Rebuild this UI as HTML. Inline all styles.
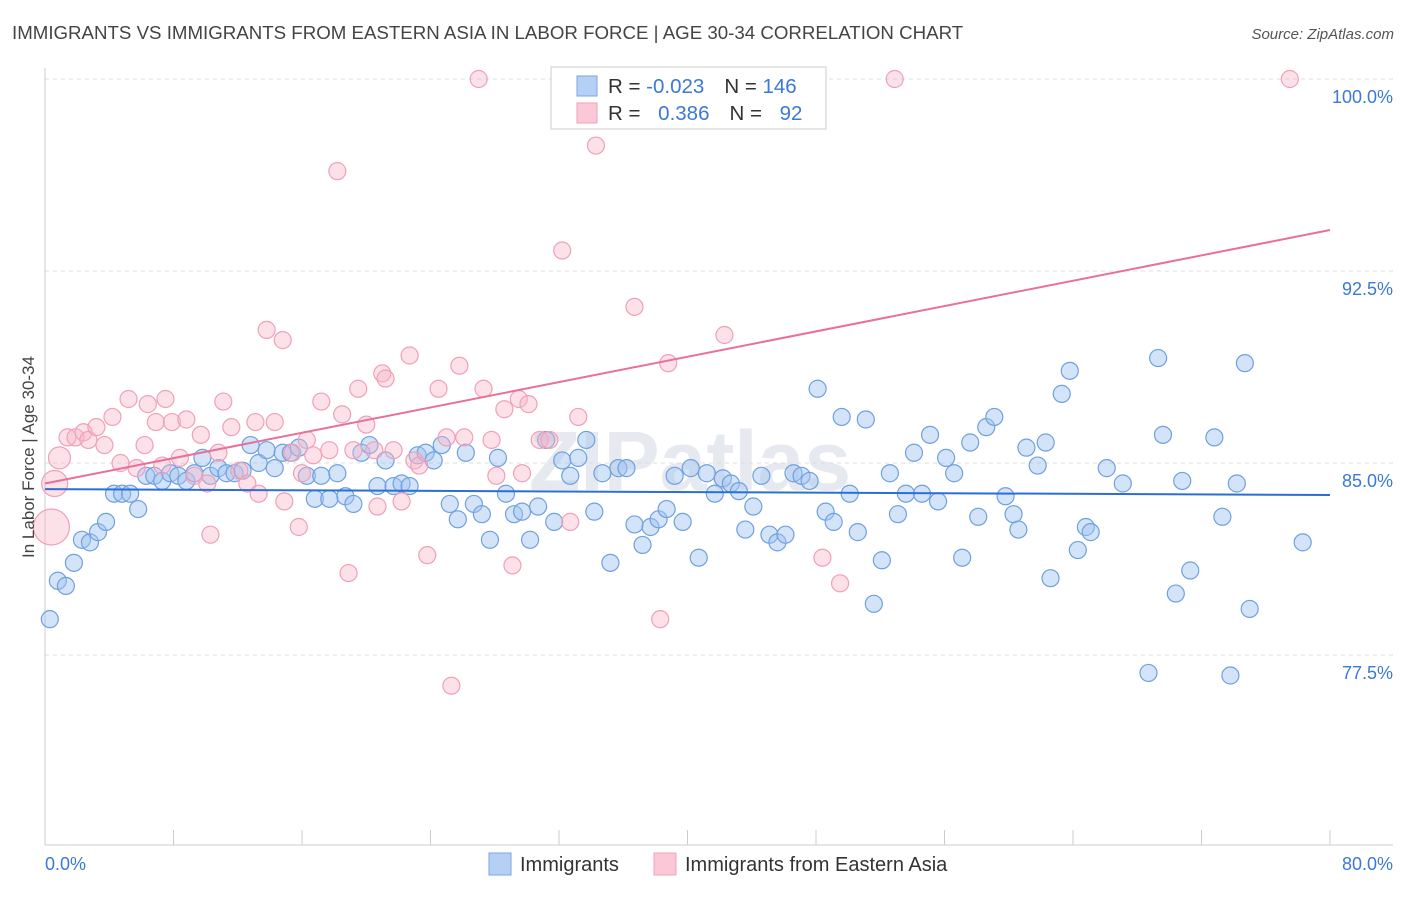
<!DOCTYPE html>
<html><head><meta charset="utf-8"><style>
body{margin:0;background:#fff;font-family:"Liberation Sans",sans-serif}
svg text{font-family:"Liberation Sans",sans-serif}
</style></head><body>
<svg width="1406" height="892" viewBox="0 0 1406 892" xmlns="http://www.w3.org/2000/svg">
<text x="12" y="39" font-size="18.7" fill="#444">IMMIGRANTS VS IMMIGRANTS FROM EASTERN ASIA IN LABOR FORCE | AGE 30-34 CORRELATION CHART</text>
<text x="1394" y="39" font-size="15" fill="#555" text-anchor="end" font-style="italic">Source: ZipAtlas.com</text>
<text x="690" y="490" font-size="84" fill="#e6e9ef" text-anchor="middle" font-weight="bold">ZIPatlas</text>
<g id="grid"></g>
<g id="axes"></g>
<g id="pts"></g>
<g id="lines"></g>
<text transform="translate(34,457) rotate(-90)" font-size="17" fill="#444" text-anchor="middle">In Labor Force | Age 30-34</text>
<text x="45" y="870" font-size="18" fill="#3b78d8">0.0%</text>
<text x="1393" y="870" font-size="18" fill="#3b78d8" text-anchor="end">80.0%</text>
<g>
<rect x="551" y="67" width="275" height="62" fill="#fff" stroke="#ccc"/>
<rect x="577" y="76" width="20" height="20" fill="#b6d0f5" stroke="#7aa6e6"/>
<rect x="577" y="103" width="20" height="20" fill="#fac8d7" stroke="#f0a0b8"/>
<text x="608" y="93" font-size="20.5" fill="#333">R = <tspan fill="#3b78d8">-0.023</tspan><tspan dx="20">N = </tspan><tspan fill="#3b78d8">146</tspan></text>
<text x="608" y="120" font-size="20.5" fill="#333">R = <tspan fill="#3b78d8" dx="12">0.386</tspan><tspan dx="20">N = </tspan><tspan fill="#3b78d8" dx="12">92</tspan></text>
</g>
<g>
<rect x="489" y="853" width="22" height="22" fill="#b6d0f5" stroke="#7aa6e6"/>
<text x="520" y="871" font-size="20" fill="#333">Immigrants</text>
<rect x="654" y="853" width="22" height="22" fill="#fac8d7" stroke="#f0a0b8"/>
<text x="685" y="871" font-size="20" fill="#333">Immigrants from Eastern Asia</text>
</g>
</svg>
<script>
const yTicks=[100,92.5,85,77.5];
const yTickLabels=["100.0%","92.5%","85.0%","77.5%"];
const xTicks=[0,8,16,24,32,40,48,56,64,72,80];
const blueX=[0.3,0.8,1.3,1.8,2.3,2.8,3.3,3.8,4.3,4.8,5.3,5.8,6.3,6.8,7.3,7.8,8.3,8.8,9.3,9.8,10.3,10.8,11.3,11.8,12.3,12.8,13.3,13.8,14.3,14.8,15.3,15.8,16.3,16.8,17.2,17.7,18.2,18.7,19.2,19.7,20.2,20.7,21.2,21.7,22.2,22.7,23.2,23.7,24.2,24.7,25.2,25.7,26.2,26.7,27.2,27.7,28.2,28.7,29.2,29.7,30.2,30.7,31.2,31.7,32.2,32.7,33.2,33.7,34.2,34.7,35.2,35.7,36.2,36.7,37.2,37.7,38.2,38.7,39.2,39.7,40.2,40.7,41.2,41.7,42.2,42.7,43.2,43.6,44.1,44.6,45.1,45.6,46.1,46.6,47.1,47.6,48.1,48.6,49.1,49.6,50.1,50.6,51.1,51.6,52.1,52.6,53.1,53.6,54.1,54.6,55.1,55.6,56.1,56.6,57.1,57.6,58.1,58.6,59.1,59.8,60.3,60.6,61.1,61.8,62.3,62.6,63.3,63.8,64.3,64.8,65.1,66.1,67.1,68.7,69.3,69.6,70.4,70.8,71.3,72.8,73.3,73.8,74.2,74.7,75.0,78.3];
const blueY=[78.9,80.4,80.2,81.1,82.0,81.9,82.3,82.7,83.8,83.8,83.8,83.2,84.5,84.5,84.3,84.6,84.5,84.3,84.6,85.2,84.5,84.8,84.6,84.6,84.7,85.7,85.0,85.5,84.8,85.4,85.4,85.6,84.5,83.6,84.5,83.6,84.6,83.7,83.4,85.4,85.7,84.1,85.1,84.1,84.2,84.1,85.3,85.4,85.1,85.7,83.4,82.8,85.4,83.4,83.0,82.0,85.2,83.8,83.0,83.1,82.0,83.3,85.9,82.7,85.1,84.5,85.2,85.9,83.1,84.6,81.1,84.8,84.8,82.6,81.8,82.5,82.8,83.2,84.5,82.7,84.8,81.3,84.6,83.8,84.4,84.2,83.9,82.4,83.3,84.5,82.2,81.9,82.2,84.6,84.5,84.3,87.9,83.1,82.7,86.8,83.8,82.3,86.7,79.5,81.2,84.6,83.0,83.8,85.4,83.8,86.1,83.5,85.2,84.6,81.3,85.8,82.9,86.4,86.8,83.7,83.0,82.4,85.6,84.9,85.8,80.5,87.7,88.6,81.6,82.5,82.3,84.8,84.2,76.8,89.1,86.1,79.9,84.3,80.8,86.0,82.9,76.7,84.2,88.9,79.3,81.9];
const pinkX=[0.4,0.6,0.9,1.4,1.9,2.4,2.7,3.2,3.7,4.2,4.7,5.2,5.7,6.2,6.4,6.9,7.3,7.5,7.9,8.4,8.8,9.3,9.7,10.1,10.3,10.8,11.1,11.6,12.1,12.6,13.3,13.1,13.8,14.3,14.8,14.9,15.4,15.8,16.0,16.3,16.7,17.2,17.7,18.2,18.5,18.9,19.2,19.5,20.0,20.5,20.7,21.0,21.2,21.7,22.2,22.7,23.0,23.3,23.8,24.5,25.0,25.3,25.8,26.1,27.0,27.3,27.8,28.1,28.6,29.1,29.5,29.7,30.1,30.8,31.4,32.2,32.7,33.2,34.3,36.7,37.2,38.3,38.8,42.3,46.3,48.4,49.5,52.9,77.5];
const pinkY=[82.5,84.2,85.2,86.0,86.0,86.2,85.9,86.4,85.7,86.8,85.0,87.5,84.8,85.7,87.3,86.6,84.9,87.5,86.6,85.2,86.7,84.5,86.1,84.2,82.2,85.4,87.4,86.4,84.7,84.2,83.8,86.6,90.2,86.6,89.8,83.5,85.4,82.5,84.6,85.9,85.3,87.4,85.5,96.4,86.9,80.7,85.5,87.9,86.5,85.5,83.3,88.5,88.3,85.5,83.5,89.2,85.1,84.9,81.4,87.9,86.0,76.3,88.8,86.0,100,87.9,85.9,84.5,87.1,81.0,87.5,84.6,87.3,85.9,85.9,93.3,82.7,86.8,97.4,91.1,100,78.9,88.9,90.0,100,81.3,80.3,100,100];
const pinkBigR=[18,13,11];
const blueTrend=[83.98,83.75];
const pinkTrend=[84.2,94.1];
const X=v=>45+v/80*1285, Y=v=>79+(100-v)*25.6;
const NS="http://www.w3.org/2000/svg";
function mk(tag,attrs,parent){const e=document.createElementNS(NS,tag);for(const k in attrs)e.setAttribute(k,attrs[k]);document.getElementById(parent).appendChild(e);return e;}
yTicks.forEach((t,i)=>{
 const l=mk('line',{x1:45,x2:1393,y1:Y(t),y2:Y(t),stroke:'#dcdcdc','stroke-dasharray':'4,4'},'grid');
 
 
 const tx=mk('text',{x:1393,y:Y(t)+24,'font-size':18,fill:'#3b78d8','text-anchor':'end'},'grid');
 tx.textContent=yTickLabels[i];
 
 
});
const ya=mk('line',{x1:45,x2:45,y1:68,y2:845,stroke:'#ccc'},'axes');


const xa=mk('line',{x1:45,x2:1393,y1:845,y2:845,stroke:'#ccc'},'axes');


xTicks.forEach(t=>{
 const l=mk('line',{x1:X(t),x2:X(t),y1:830,y2:845,stroke:'#ccc'},'axes');
 
 
});
blueX.forEach((v,i)=>{
 const c=mk('circle',{cx:X(v),cy:Y(blueY[i]),r:8.5,fill:'rgba(160,196,240,0.45)',stroke:'#6fa0e0','stroke-width':1.2},'pts');
 
 
});
pinkX.forEach((v,i)=>{
 const c=mk('circle',{cx:X(v),cy:Y(pinkY[i]),r:pinkBigR[i]||8.5,fill:'rgba(248,180,200,0.4)',stroke:'#f0a0b8','stroke-width':1.2},'pts');
 
 
});
const bl=mk('line',{x1:X(0),x2:X(80),y1:Y(blueTrend[0]),y2:Y(blueTrend[1]),stroke:'#2a6fd6','stroke-width':2},'lines');


const pl=mk('line',{x1:X(0),x2:X(80),y1:Y(pinkTrend[0]),y2:Y(pinkTrend[1]),stroke:'#e8709a','stroke-width':2},'lines');


</script>
</body></html>
